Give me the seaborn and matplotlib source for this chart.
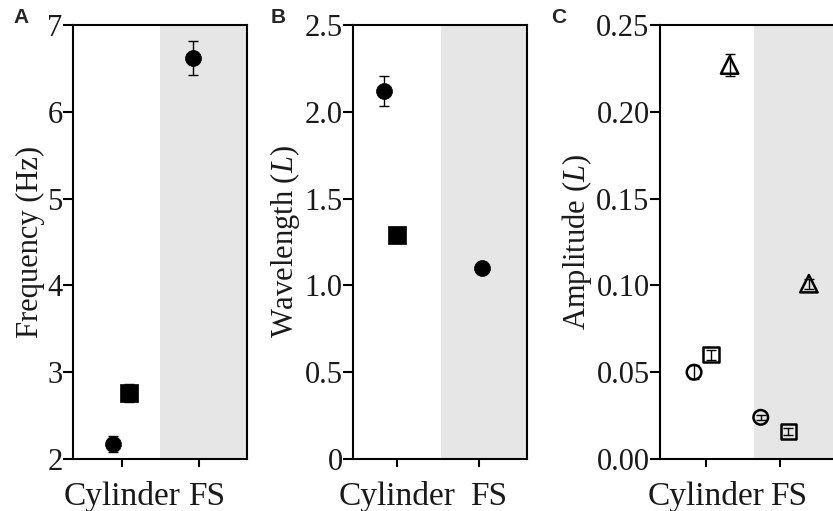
import pandas as pd
import seaborn as sns
import matplotlib.pyplot as plt
from matplotlib.transforms import ScaledTranslation

# Plot settings
sns.set_style("ticks")
plt.rcParams.update({
    "font.family": ["Liberation Serif", "DejaVu Serif"],
    "mathtext.fontset": "custom",
    "mathtext.it": "Liberation Serif:italic",
    "mathtext.rm": "Liberation Serif",
    "axes.linewidth": 1.5,
    "axes.edgecolor": "black",
    "xtick.color": "black",
    "ytick.color": "black",
})

# ── 1 · Data ─────────────────────────────────────────────────────────────────
groups = ["Cylinder", "FS"]

freq_group = ["Cylinder", "Cylinder", "FS"]
freq_shape = ["circle", "square", "circle"]
freq_value = [2.17, 2.76, 6.62]
freq_err = [0.09, 0.10, 0.20]

wave_group = ["Cylinder", "Cylinder", "FS"]
wave_shape = ["circle", "square", "circle"]
wave_value = [2.12, 1.29, 1.10]
wave_err = [0.085, 0.04, 0.03]

amp_group = ["Cylinder", "Cylinder", "Cylinder", "FS", "FS", "FS"]
amp_shape = ["circle", "square", "triangle", "circle", "square", "triangle"]
amp_value = [0.050, 0.060, 0.227, 0.024, 0.016, 0.101]
amp_err = [0.004, 0.003, 0.0065, 0.0015, 0.002, 0.003]

freq_ticks = [2, 3, 4, 5, 6, 7]
freq_ticklabels = ["2", "3", "4", "5", "6", "7"]
wave_ticks = [0, 0.5, 1.0, 1.5, 2.0, 2.5]
wave_ticklabels = ["0", "0.5", "1.0", "1.5", "2.0", "2.5"]
amp_ticks = [0, 0.05, 0.10, 0.15, 0.20, 0.25]
amp_ticklabels = ["0.00", "0.05", "0.10", "0.15", "0.20", "0.25"]

# ── 2 · Layout / style ───────────────────────────────────────────────────────
MARKERS = {"circle": "o", "square": "s", "triangle": "^"}

panels = [
    dict(tag="A", df=pd.DataFrame({"group": freq_group, "shape": freq_shape,
                                   "value": freq_value, "err": freq_err}),
         ylabel="Frequency (Hz)", ticks=freq_ticks, ticklabels=freq_ticklabels,
         ylim=(2, 7), xlim=(-0.64, 1.62), shade=0.49, filled=True, fs_shift=7,
         offsets={("Cylinder", "circle"): -0.12, ("Cylinder", "square"): 0.09,
                  ("FS", "circle"): -0.08},
         rect=[0.0876, 0.1018, 0.209, 0.849], tagx=0.0156),
    dict(tag="B", df=pd.DataFrame({"group": wave_group, "shape": wave_shape,
                                   "value": wave_value, "err": wave_err}),
         ylabel="Wavelength ($\\mathit{L}$)", ticks=wave_ticks, ticklabels=wave_ticklabels,
         ylim=(0, 2.5), xlim=(-0.54, 1.59), shade=0.54, filled=True, fs_shift=10,
         offsets={("Cylinder", "circle"): -0.16, ("Cylinder", "square"): 0.0,
                  ("FS", "circle"): 0.04},
         rect=[0.4238, 0.1018, 0.209, 0.849], tagx=0.325),
    dict(tag="C", df=pd.DataFrame({"group": amp_group, "shape": amp_shape,
                                   "value": amp_value, "err": amp_err}),
         ylabel="Amplitude ($\\mathit{L}$)", ticks=amp_ticks, ticklabels=amp_ticklabels,
         ylim=(0, 0.25), xlim=(-0.62, 1.73), shade=0.65, filled=False, fs_shift=9,
         offsets={("Cylinder", "circle"): -0.16, ("Cylinder", "square"): 0.07,
                  ("Cylinder", "triangle"): 0.32, ("FS", "circle"): -0.26,
                  ("FS", "square"): 0.11, ("FS", "triangle"): 0.39},
         rect=[0.7923, 0.1018, 0.209, 0.849], tagx=0.662),
]

fig = plt.figure(figsize=(8.33, 5.11), dpi=100)

for p in panels:
    ax = fig.add_axes(p["rect"])
    df = p["df"].copy()
    df["x"] = [groups.index(g) + p["offsets"][(g, s)] for g, s in zip(df["group"], df["shape"])]

    ax.axvspan(p["shade"], p["xlim"][1], color="#e6e6e6", lw=0, zorder=0)

    ax.errorbar(df["x"], df["value"], yerr=df["err"], fmt="none", ecolor="black",
                elinewidth=1.0, capsize=3.5, capthick=1.0, zorder=2)

    for shape, sub in df.groupby("shape"):
        if p["filled"]:
            size = 11.5 if shape == "circle" else 12.5
            sns.scatterplot(data=sub, x="x", y="value", marker=MARKERS[shape], s=size ** 2,
                            color="black", edgecolor="black", linewidth=0.5, ax=ax, zorder=3)
        else:
            size = {"circle": 10.5, "square": 11, "triangle": 12.5}[shape]
            sns.scatterplot(data=sub, x="x", y="value", marker=MARKERS[shape], s=size ** 2,
                            facecolor="none", edgecolor="black", linewidth=1.8, ax=ax, zorder=3)

    ax.set_xlim(*p["xlim"])
    ax.set_ylim(*p["ylim"])
    ax.set_xticks(range(len(groups)))
    ax.set_xticklabels(groups)
    ax.set_yticks(p["ticks"])
    ax.set_yticklabels(p["ticklabels"])
    ax.tick_params(axis="y", direction="out", length=7, width=1.5, pad=0.5, labelsize=22,
                   labelcolor="#1a1a1a")
    ax.tick_params(axis="x", direction="out", length=6, width=1.5, pad=10, labelsize=24,
                   labelcolor="#1a1a1a")
    # FS label sits a little right of its tick, as in the original
    fs_label = ax.get_xticklabels()[1]
    fs_label.set_transform(fs_label.get_transform() +
                           ScaledTranslation(p["fs_shift"] / 100, 0, fig.dpi_scale_trans))
    ax.set_xlabel("")
    ax.set_ylabel(p["ylabel"], fontsize=22, labelpad=2, color="#1a1a1a")
    for sp in ax.spines.values():
        sp.set_visible(True)
        sp.set_linewidth(1.5)

    fig.text(p["tagx"], 0.984, p["tag"], fontsize=15, fontweight="bold",
             family="Liberation Sans", va="top", ha="left")

fig.savefig("out.png", dpi=100)
print("Saved: out.png ✓")
